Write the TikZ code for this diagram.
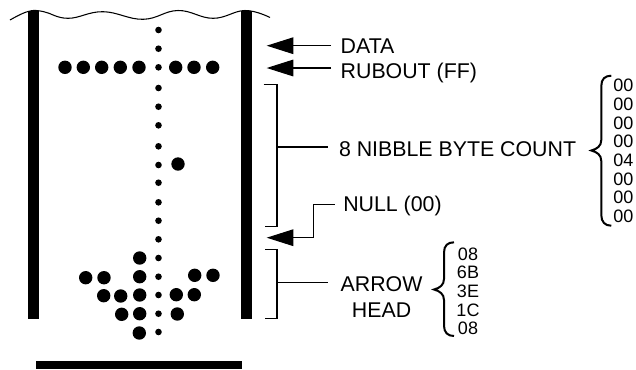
\documentclass[tikz,border=0pt]{standalone}
\usepackage{fontspec}
\setmainfont{Liberation Sans}
\usetikzlibrary{arrows.meta}
\begin{document}
\begin{tikzpicture}[x=0.75pt,y=-0.75pt,
  wire/.style={line width=0.8pt},
  pointer/.style={wire,-{Triangle[length=20pt,width=12.5pt]}},
  curly/.style={line width=1.5pt},
  caption/.style={anchor=west,inner xsep=0pt,inner ysep=0pt,outer sep=0pt,font=\fontsize{16}{19.5}\selectfont},
  hexcol/.style={align=center,inner sep=0pt,font=\fontsize{13.5}{14}\selectfont}]
 \useasboundingbox (0,0) rectangle (636,369);
 % paper edges
 \fill (28.3,11) rectangle (39,319.3);
 \fill (241,11) rectangle (251.7,319.3);
 \fill (36.3,361.3) rectangle (242.3,369);
 \draw[wire] plot[smooth,tension=0.7] coordinates {(10,20) (28,11.5) (43,11.5) (68,18.3) (103,11.7) (143,19.3) (178,10.5) (213,18.3) (245,10.5) (270,17.5)};
 % sprocket column
 \fill (158.5,30) circle (3.3);
 \fill (158.5,48.7) circle (3.3);
 \fill (158.5,67.3) circle (3.3);
 \fill (158.5,88) circle (3.3);
 \fill (158.5,106.7) circle (3.3);
 \fill (158.5,125.3) circle (3.3);
 \fill (158.5,146.3) circle (3.3);
 \fill (158.5,165) circle (3.3);
 \fill (158.5,182.7) circle (3.3);
 \fill (158.5,202.3) circle (3.3);
 \fill (158.5,220.7) circle (3.3);
 \fill (158.5,239.3) circle (3.3);
 \fill (158.5,258) circle (3.3);
 \fill (158.5,276.7) circle (3.3);
 \fill (158.5,295) circle (3.3);
 \fill (158.5,313.7) circle (3.3);
 \fill (158.5,332) circle (3.3);
 % rubout row
 \fill (65,67.3) circle (6.7);
 \fill (83.3,67.3) circle (6.7);
 \fill (101.7,67.3) circle (6.7);
 \fill (120.3,67.3) circle (6.7);
 \fill (139,67.3) circle (6.7);
 \fill (175.7,67.3) circle (6.7);
 \fill (194,67.3) circle (6.7);
 \fill (212.7,67.3) circle (6.7);
 % count
 \fill (178,164) circle (6.7);
 % arrow head
 \fill (139.7,258) circle (6.7);
 \fill (85.7,277.7) circle (6.7);
 \fill (104,277.7) circle (6.7);
 \fill (139.7,276.7) circle (6.7);
 \fill (194.7,275.3) circle (6.7);
 \fill (213,275.3) circle (6.7);
 \fill (103.7,295.7) circle (6.7);
 \fill (120.7,296) circle (6.7);
 \fill (139.7,295) circle (6.7);
 \fill (176.3,294.7) circle (6.7);
 \fill (194.3,294.7) circle (6.7);
 \fill (121.7,314.3) circle (6.7);
 \fill (139.7,313.7) circle (6.7);
 \fill (177.3,314) circle (6.7);
 \fill (139.3,333) circle (6.7);
 % labels
 \node[caption] (data) at (340.7,46.3) {DATA};
 \node[caption] (rubout) at (340.7,72.7) {RUBOUT (FF)};
 \node[caption] (count) at (339,149) {8 NIBBLE BYTE COUNT};
 \node[caption] (null) at (343.3,205.7) {NULL (00)};
 \node[caption,align=center] (head) at (340.7,297) {ARROW\\HEAD};
 \node[hexcol] (counthex) at (623.3,151) {00\\00\\00\\00\\04\\00\\00\\00};
 \node[hexcol] (headhex) at (468,291.2) {08\\6B\\3E\\1C\\08};
 % arrows
 \coordinate (datatip) at (266.7,45.7);
 \coordinate (rubouttip) at (266.7,68);
 \coordinate (nulltip) at (266.7,237.7);
 \coordinate (nullbend) at (313.3,237.7);
 \coordinate (nullend) at (334.7,204.3);
 \coordinate (dataend) at (331,45.7);
 \coordinate (rubend) at (331,68);
 \draw[pointer] (dataend) -- (datatip);
 \draw[pointer] (rubend) -- (rubouttip);
 \draw[pointer] (nullend) -| (nullbend) -- (nulltip);
 % brackets
 \coordinate (counttop) at (263.7,84.7);
 \coordinate (countbot) at (265,226.3);
 \coordinate (headtop) at (265,249.7);
 \coordinate (headbot) at (265,318.3);
 \coordinate (countstem) at (277,147);
 \coordinate (headstem) at (277,282.7);
 \coordinate (countend) at (328,147);
 \coordinate (headend) at (328,282.7);
 \draw[wire] (counttop) -| (countstem) |- (countbot);
 \draw[wire] (headtop) -| (headstem) |- (headbot);
 \draw[wire] (countstem) -- (countend);
 \draw[wire] (headstem) -- (headend);
 % braces
 \draw[curly] (611.3,75.7) .. controls (605,75.7) and (601.3,79) .. (601.3,86) -- (601.3,140) .. controls (601.3,146) and (597,149) .. (591.3,150.5) .. controls (597,152) and (601.3,155) .. (601.3,161) -- (601.3,215) .. controls (601.3,222) and (605,225.7) .. (611.3,225.7);
 \draw[curly] (454,242.3) .. controls (447.7,242.3) and (444,245.6) .. (444,252.6) -- (444,279) .. controls (444,285) and (439.7,288) .. (434,289.5) .. controls (439.7,291) and (444,294) .. (444,300) -- (444,325.5) .. controls (444,332.5) and (447.7,336) .. (454,336);
\end{tikzpicture}
\end{document}
